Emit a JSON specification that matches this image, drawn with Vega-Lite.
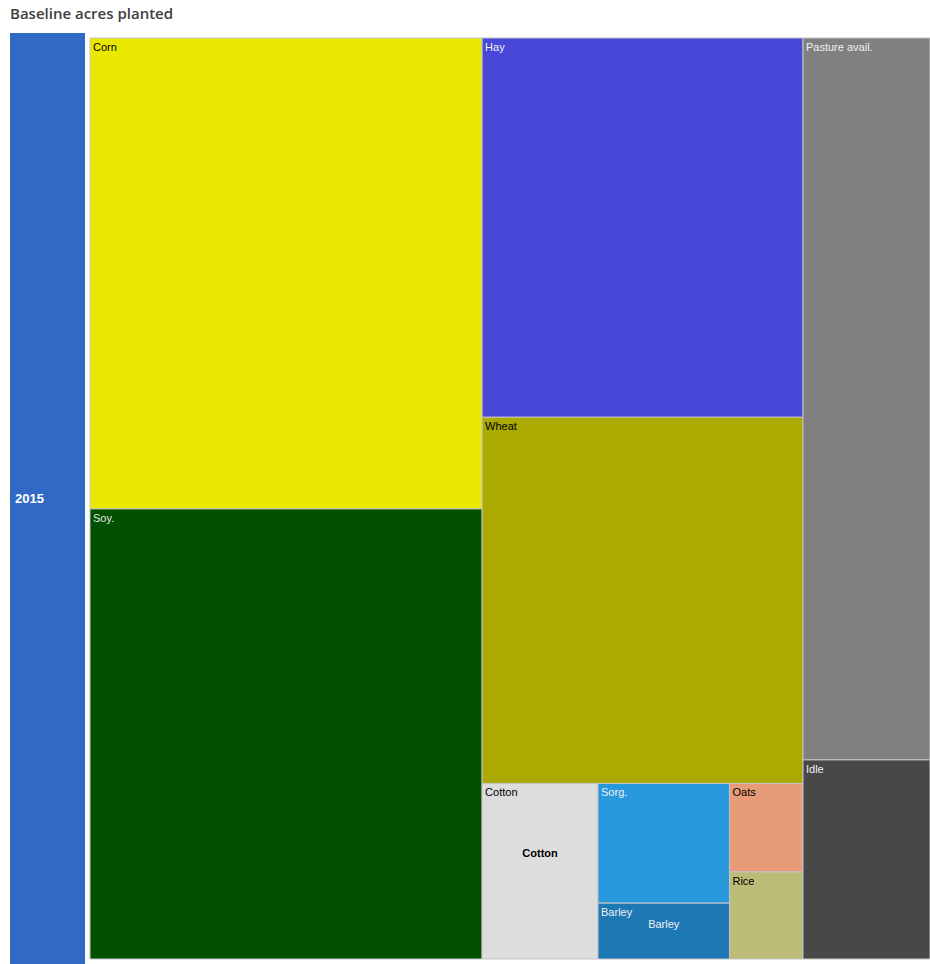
{
  "$schema": "https://vega.github.io/schema/vega-lite/v6.json",
  "background": "white",
  "padding": {"left": 10, "top": 7, "right": 0, "bottom": 0},
  "title": {
    "text": "Baseline acres planted",
    "anchor": "start",
    "font": "Open Sans",
    "fontSize": 15,
    "fontWeight": 600,
    "color": "#404040",
    "offset": 11
  },
  "config": {
    "view": {"stroke": null},
    "concat": {"spacing": 3}
  },
  "data": {
    "values": [
      {"year": "2015", "name": "Corn", "value": 88.0, "col": 1, "band": 1, "sub": 1, "leaf": 1},
      {"year": "2015", "name": "Soy.", "value": 84.1, "col": 1, "band": 2, "sub": 1, "leaf": 1},
      {"year": "2015", "name": "Hay", "value": 58.0, "col": 2, "band": 1, "sub": 1, "leaf": 1},
      {"year": "2015", "name": "Wheat", "value": 56.0, "col": 2, "band": 2, "sub": 1, "leaf": 1},
      {"year": "2015", "name": "Cotton", "value": 9.7, "col": 2, "band": 3, "sub": 1, "leaf": 1},
      {"year": "2015", "name": "Sorg.", "value": 7.5, "col": 2, "band": 3, "sub": 2, "leaf": 1},
      {"year": "2015", "name": "Barley", "value": 3.5, "col": 2, "band": 3, "sub": 2, "leaf": 2},
      {"year": "2015", "name": "Oats", "value": 3.1, "col": 2, "band": 3, "sub": 3, "leaf": 1},
      {"year": "2015", "name": "Rice", "value": 3.05, "col": 2, "band": 3, "sub": 3, "leaf": 2},
      {"year": "2015", "name": "Pasture avail.", "value": 43.7, "col": 3, "band": 1, "sub": 1, "leaf": 1},
      {"year": "2015", "name": "Idle", "value": 12.05, "col": 3, "band": 2, "sub": 1, "leaf": 1}
    ]
  },
  "hconcat": [
    {
      "width": 75,
      "height": 931,
      "transform": [
        {"aggregate": [{"op": "sum", "field": "value", "as": "total"}], "groupby": ["year"]}
      ],
      "encoding": {
        "y": {"field": "year", "type": "nominal", "axis": null,
              "scale": {"paddingInner": 0, "paddingOuter": 0}}
      },
      "layer": [
        {
          "mark": {"type": "rect", "color": "#316AC5"},
          "encoding": {
            "x": {"datum": 0, "type": "quantitative", "axis": null, "scale": {"domain": [0, 1], "nice": false}},
            "x2": {"datum": 1}
          }
        },
        {
          "mark": {"type": "text", "align": "left", "baseline": "middle", "dx": 5, "font": "Liberation Sans", "fontSize": 13, "fontWeight": "bold", "color": "white"},
          "encoding": {
            "x": {"datum": 0, "type": "quantitative"},
            "text": {"field": "year"}
          }
        }
      ]
    },
    {
      "width": 842,
      "height": 931,
      "transform": [
        {"joinaggregate": [{"op": "sum", "field": "value", "as": "colTotal"}], "groupby": ["col"]},
        {"joinaggregate": [{"op": "sum", "field": "value", "as": "bandTotal"}], "groupby": ["col", "band"]},
        {"joinaggregate": [{"op": "sum", "field": "value", "as": "subTotal"}], "groupby": ["col", "band", "sub"]},
        {"window": [{"op": "sum", "field": "value", "as": "colCum"}], "sort": [{"field": "col"}], "frame": [null, 0], "ignorePeers": false},
        {"window": [{"op": "sum", "field": "value", "as": "bandCum"}], "groupby": ["col"], "sort": [{"field": "band"}], "frame": [null, 0], "ignorePeers": false},
        {"window": [{"op": "sum", "field": "value", "as": "subCum"}], "groupby": ["col", "band"], "sort": [{"field": "sub"}], "frame": [null, 0], "ignorePeers": false},
        {"window": [{"op": "sum", "field": "value", "as": "leafCum"}], "groupby": ["col", "band", "sub"], "sort": [{"field": "leaf"}], "frame": [null, 0], "ignorePeers": false},
        {"calculate": "datum.colCum - datum.colTotal", "as": "cx0"},
        {"calculate": "(datum.bandCum - datum.bandTotal) / datum.colTotal", "as": "by0"},
        {"calculate": "datum.bandTotal / datum.colTotal", "as": "bh"},
        {"calculate": "datum.cx0 + datum.colTotal * (datum.subCum - datum.subTotal) / datum.bandTotal", "as": "x0"},
        {"calculate": "datum.cx0 + datum.colTotal * datum.subCum / datum.bandTotal", "as": "x1"},
        {"calculate": "datum.by0 + datum.bh * (datum.leafCum - datum.value) / datum.subTotal", "as": "y0"},
        {"calculate": "datum.by0 + datum.bh * datum.leafCum / datum.subTotal", "as": "y1"},
        {"calculate": "(datum.x0 + datum.x1) / 2", "as": "xc"},
        {"calculate": "datum.y0 + 0.4 * (datum.y1 - datum.y0)", "as": "yc"}
      ],
      "resolve": {"scale": {"color": "independent"}},
      "layer": [
        {
          "mark": {"type": "rect", "stroke": "#c4c4c4", "strokeWidth": 1},
          "encoding": {
            "x": {"field": "x0", "type": "quantitative", "axis": null, "scale": {"zero": true, "nice": false, "range": [2, 842]}},
            "x2": {"field": "x1"},
            "y": {"field": "y0", "type": "quantitative", "axis": null, "scale": {"domain": [0, 1], "nice": false, "range": [5, 926]}},
            "y2": {"field": "y1"},
            "color": {
              "field": "name", "type": "nominal", "legend": null,
              "scale": {
                "domain": ["Corn", "Soy.", "Hay", "Wheat", "Cotton", "Sorg.", "Barley", "Oats", "Rice", "Pasture avail.", "Idle"],
                "range": ["#E8E800", "#005000", "#4848D8", "#AAAA00", "#DDDDDD", "#2898DC", "#1E78B4", "#E89B78", "#BCBB78", "#808080", "#484848"]
              }
            }
          }
        },
        {
          "mark": {"type": "text", "align": "left", "baseline": "top", "dx": 3, "dy": 4, "font": "Liberation Sans", "fontSize": 11},
          "encoding": {
            "x": {"field": "x0", "type": "quantitative"},
            "y": {"field": "y0", "type": "quantitative"},
            "text": {"field": "name"},
            "color": {
              "field": "name", "type": "nominal", "legend": null,
              "scale": {
                "domain": ["Corn", "Soy.", "Hay", "Wheat", "Cotton", "Sorg.", "Barley", "Oats", "Rice", "Pasture avail.", "Idle"],
                "range": ["#000000", "#e8e8e8", "#f0f0f0", "#000000", "#000000", "#f0f0f0", "#f0f0f0", "#000000", "#000000", "#f0f0f0", "#f0f0f0"]
              }
            }
          }
        },
        {
          "transform": [{"filter": "datum.name === 'Cotton'"}],
          "mark": {"type": "text", "align": "center", "baseline": "middle", "font": "Liberation Sans", "fontSize": 11, "fontWeight": "bold", "color": "#000000"},
          "encoding": {
            "x": {"field": "xc", "type": "quantitative"},
            "y": {"field": "yc", "type": "quantitative"},
            "text": {"field": "name"}
          }
        },
        {
          "transform": [{"filter": "datum.name === 'Barley'"}],
          "mark": {"type": "text", "align": "center", "baseline": "middle", "font": "Liberation Sans", "fontSize": 11, "color": "#f0f0f0"},
          "encoding": {
            "x": {"field": "xc", "type": "quantitative"},
            "y": {"field": "yc", "type": "quantitative"},
            "text": {"field": "name"}
          }
        }
      ]
    }
  ]
}
